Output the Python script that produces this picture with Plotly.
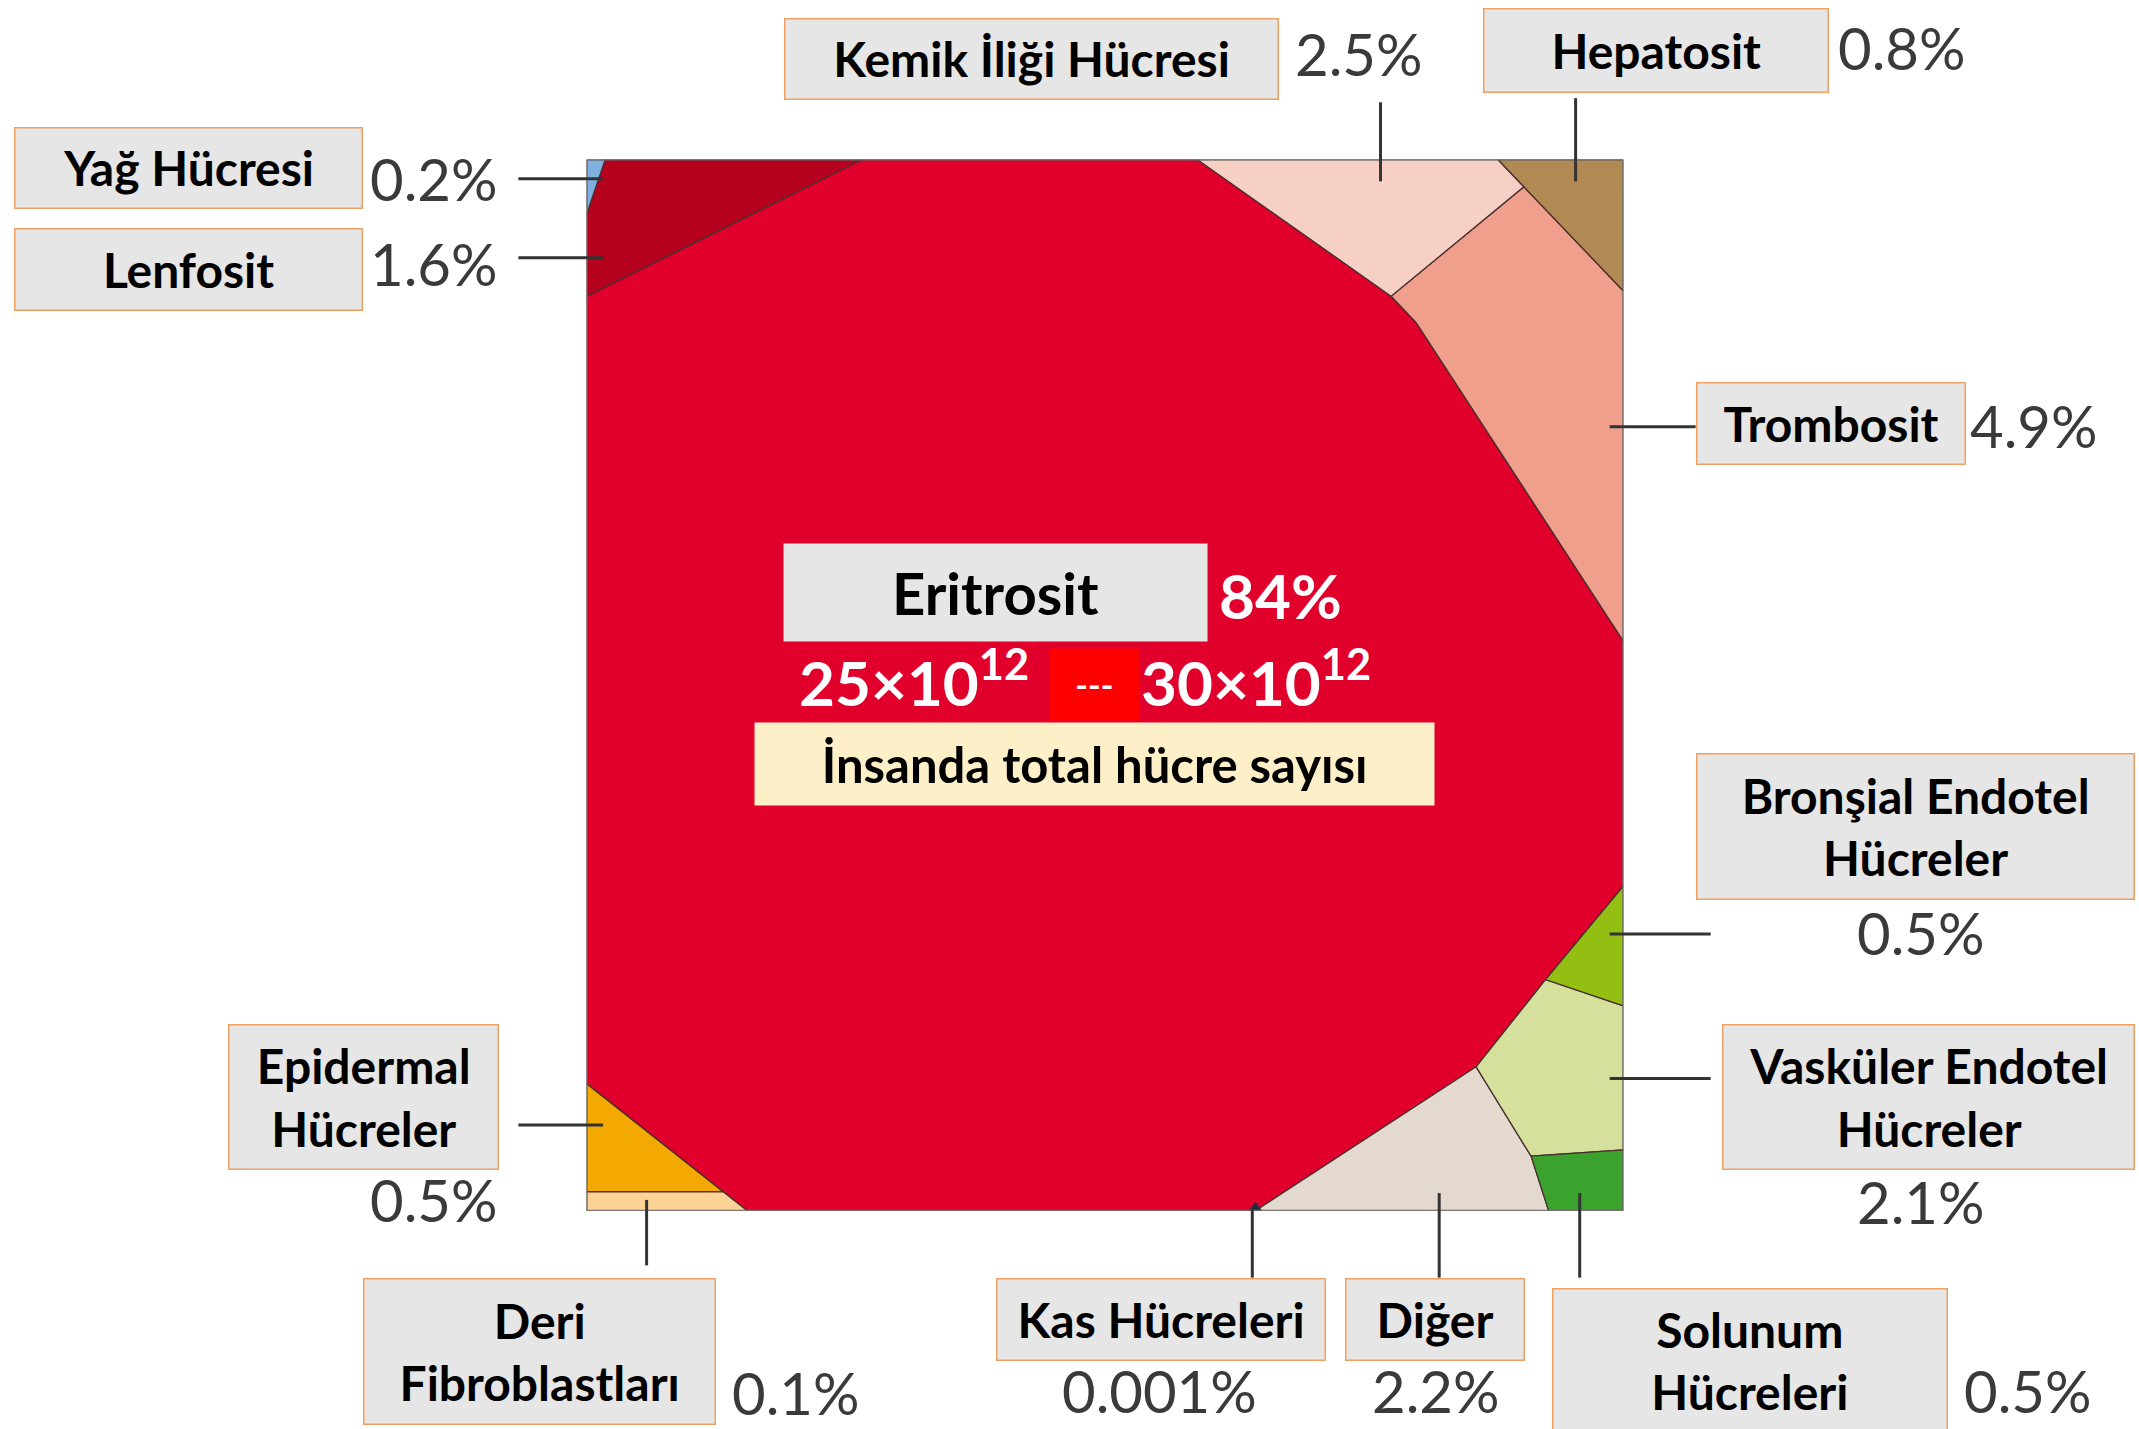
import plotly.graph_objects as go

# ---------------- data ----------------
categories = ["Eritrosit", "Trombosit", "Kemik İliği Hücresi", "Diğer",
              "Vasküler Endotel Hücreler", "Lenfosit", "Hepatosit",
              "Bronşial Endotel Hücreler", "Solunum Hücreleri",
              "Epidermal Hücreler", "Yağ Hücresi", "Deri Fibroblastları",
              "Kas Hücreleri"]
percent_values = [84, 4.9, 2.5, 2.2, 2.1, 1.6, 0.8, 0.5, 0.5, 0.5, 0.2, 0.1, 0.001]
percent_labels = ["84%", "4.9%", "2.5%", "2.2%", "2.1%", "1.6%", "0.8%",
                  "0.5%", "0.5%", "0.5%", "0.2%", "0.1%", "0.001%"]
total_low = "25×10<sup>12</sup>"
total_high = "30×10<sup>12</sup>"
total_caption = "İnsanda total hücre sayısı"

# Voronoi-treemap cell outlines, in unit-square coordinates
cell_u = {
    "Eritrosit": [0.266, 0.589, 0.776, 0.800, 1.0, 1.0, 0.925, 0.858, 0.645, 0.155, 0.0, 0.0],
    "Trombosit": [0.904, 1.0, 1.0, 0.800, 0.776],
    "Kemik İliği Hücresi": [0.589, 0.879, 0.904, 0.776],
    "Diğer": [0.645, 0.858, 0.911, 0.928],
    "Vasküler Endotel Hücreler": [0.925, 1.0, 1.0, 0.911, 0.858],
    "Lenfosit": [0.018, 0.266, 0.0, 0.0],
    "Hepatosit": [0.879, 1.0, 1.0, 0.904],
    "Bronşial Endotel Hücreler": [1.0, 1.0, 0.925],
    "Solunum Hücreleri": [0.911, 1.0, 1.0, 0.928],
    "Epidermal Hücreler": [0.0, 0.132, 0.0],
    "Yağ Hücresi": [0.0, 0.018, 0.0],
    "Deri Fibroblastları": [0.0, 0.132, 0.155, 0.0],
    "Kas Hücreleri": [0.639, 0.651, 0.645],
}
cell_v = {
    "Eritrosit": [1.0, 1.0, 0.870, 0.845, 0.542, 0.309, 0.220, 0.137, 0.0, 0.0, 0.121, 0.870],
    "Trombosit": [0.974, 0.875, 0.542, 0.845, 0.870],
    "Kemik İliği Hücresi": [1.0, 1.0, 0.974, 0.870],
    "Diğer": [0.0, 0.137, 0.052, 0.0],
    "Vasküler Endotel Hücreler": [0.220, 0.195, 0.058, 0.052, 0.137],
    "Lenfosit": [1.0, 1.0, 0.870, 0.948],
    "Hepatosit": [1.0, 1.0, 0.875, 0.974],
    "Bronşial Endotel Hücreler": [0.309, 0.195, 0.220],
    "Solunum Hücreleri": [0.052, 0.058, 0.0, 0.0],
    "Epidermal Hücreler": [0.121, 0.018, 0.018],
    "Yağ Hücresi": [1.0, 1.0, 0.948],
    "Deri Fibroblastları": [0.018, 0.018, 0.0, 0.0],
    "Kas Hücreleri": [0.0, 0.0, 0.008],
}

# ---------------- styles ----------------
cell_colors = {
    "Eritrosit": "#e0002b",
    "Trombosit": "#f09f8c",
    "Kemik İliği Hücresi": "#f7d0c5",
    "Diğer": "#e3d9cf",
    "Vasküler Endotel Hücreler": "#d4e09c",
    "Lenfosit": "#b5001e",
    "Hepatosit": "#b08a52",
    "Bronşial Endotel Hücreler": "#93be12",
    "Solunum Hücreleri": "#3ba22d",
    "Epidermal Hücreler": "#f4a900",
    "Yağ Hücresi": "#7eb0e0",
    "Deri Fibroblastları": "#fcd394",
    "Kas Hücreleri": "#1f2a48",
}

REF_W, REF_H = 1568.0, 1048.0   # reference coordinates used for placement
SCALE = 2139.0 / REF_W


def px(x):
    return x / REF_W


def py(y):
    return 1 - y / REF_H


fig = go.Figure()
for name in categories:
    xs = cell_u[name] + [cell_u[name][0]]
    ys = cell_v[name] + [cell_v[name][0]]
    fig.add_trace(go.Scatter(
        x=xs, y=ys, mode="lines", fill="toself",
        fillcolor=cell_colors[name],
        line=dict(color="#4a2e2e", width=1.3),
        name=name, hoverinfo="name", showlegend=False))

# outer square border
fig.add_shape(type="rect", xref="x", yref="y", x0=0, y0=0, x1=1, y1=1,
              line=dict(color="#707070", width=2), fillcolor="rgba(0,0,0,0)")

LABEL_FONT = "Lato, 'Open Sans', sans-serif"
BOX_BG = "#e6e6e6"
BOX_BORDER = "#f0a060"

# label boxes: (category, center x, center y, width, height, text)
boxes = [
    ("Kemik İliği Hücresi", 756.5, 43, 363, 60, "Kemik İliği Hücresi"),
    ("Hepatosit", 1214, 37, 254, 62, "Hepatosit"),
    ("Yağ Hücresi", 138, 123, 256, 60, "Yağ Hücresi"),
    ("Lenfosit", 138, 197.5, 256, 61, "Lenfosit"),
    ("Trombosit", 1342, 310.5, 198, 61, "Trombosit"),
    ("Bronşial Endotel Hücreler", 1404, 606, 322, 108, "Bronşial Endotel<br>Hücreler"),
    ("Vasküler Endotel Hücreler", 1413.5, 804.5, 303, 107, "Vasküler Endotel<br>Hücreler"),
    ("Epidermal Hücreler", 266.5, 804.5, 199, 107, "Epidermal<br>Hücreler"),
    ("Deri Fibroblastları", 395.5, 991, 259, 108, "Deri<br>Fibroblastları"),
    ("Kas Hücreleri", 851, 967.5, 242, 61, "Kas Hücreleri"),
    ("Diğer", 1052, 967.5, 132, 61, "Diğer"),
    ("Solunum Hücreleri", 1283, 998, 290, 106, "Solunum<br>Hücreleri"),
]
for _, cx, cy, w, h, txt in boxes:
    fig.add_annotation(
        xref="paper", yref="paper", x=px(cx), y=py(cy), xanchor="center", yanchor="middle",
        text="<b>" + txt + "</b>", showarrow=False,
        width=w * SCALE - 3, height=h * SCALE - 3, align="center", valign="middle",
        bgcolor=BOX_BG, bordercolor=BOX_BORDER, borderwidth=1.5, borderpad=0,
        font=dict(family=LABEL_FONT, size=48, color="#000000"))

# percentage positions: (category, x, y)
pct_pos = [
    ("Kemik İliği Hücresi", 996, 39), ("Hepatosit", 1394, 35),
    ("Yağ Hücresi", 318, 131), ("Lenfosit", 318, 193),
    ("Trombosit", 1491, 312), ("Bronşial Endotel Hücreler", 1408, 684),
    ("Vasküler Endotel Hücreler", 1408, 881), ("Epidermal Hücreler", 318, 880),
    ("Deri Fibroblastları", 583, 1021), ("Kas Hücreleri", 850, 1020),
    ("Diğer", 1052, 1020), ("Solunum Hücreleri", 1486, 1020),
]
for name, x, y in pct_pos:
    fig.add_annotation(
        xref="paper", yref="paper", x=px(x), y=py(y), xanchor="center", yanchor="middle",
        text=percent_labels[categories.index(name)], showarrow=False,
        font=dict(family=LABEL_FONT, size=58, color="#3a3a3a"))

# Eritrosit centre block
fig.add_annotation(xref="paper", yref="paper", x=px(730), y=py(434.5),
                   xanchor="center", yanchor="middle", text="<b>Eritrosit</b>",
                   showarrow=False, width=310 * SCALE, height=71 * SCALE,
                   bgcolor=BOX_BG, borderpad=0, valign="middle",
                   font=dict(family=LABEL_FONT, size=58, color="#000000"))
fig.add_annotation(xref="paper", yref="paper", x=px(939), y=py(436),
                   xanchor="center", yanchor="middle",
                   text="<b>" + percent_labels[0] + "</b>", showarrow=False,
                   font=dict(family=LABEL_FONT, size=62, color="#ffffff"))
fig.add_annotation(xref="paper", yref="paper", x=px(802.5), y=py(502),
                   xanchor="center", yanchor="middle", text="<b>---</b>",
                   showarrow=False, width=65 * SCALE, height=52 * SCALE,
                   bgcolor="#ff0000", borderpad=0, valign="middle",
                   font=dict(family=LABEL_FONT, size=34, color="#ffffff"))
fig.add_annotation(xref="paper", yref="paper", x=px(670), y=py(497),
                   xanchor="center", yanchor="middle", text="<b>" + total_low + "</b>",
                   showarrow=False, font=dict(family=LABEL_FONT, size=62, color="#ffffff"))
fig.add_annotation(xref="paper", yref="paper", x=px(921), y=py(497),
                   xanchor="center", yanchor="middle", text="<b>" + total_high + "</b>",
                   showarrow=False, font=dict(family=LABEL_FONT, size=62, color="#ffffff"))
fig.add_annotation(xref="paper", yref="paper", x=px(802), y=py(560),
                   xanchor="center", yanchor="middle", text="<b>" + total_caption + "</b>",
                   showarrow=False, width=498 * SCALE, height=60 * SCALE,
                   bgcolor="#fdf0c8", borderpad=0, valign="middle",
                   font=dict(family=LABEL_FONT, size=49, color="#000000"))

# leader lines
leaders = [
    (1012, 75, 1012, 133), (1155, 72, 1155, 133),
    (380, 131, 442, 131), (380, 189, 442, 189),
    (1180, 313, 1243, 313), (1180, 685, 1254, 685),
    (1180, 791, 1254, 791), (380, 825, 442, 825),
    (474, 880, 474, 928), (918, 886, 918, 937),
    (1055, 875, 1055, 937), (1158, 875, 1158, 937),
]
for x0, y0, x1, y1 in leaders:
    fig.add_shape(type="line", xref="paper", yref="paper",
                  x0=px(x0), y0=py(y0), x1=px(x1), y1=py(y1),
                  line=dict(color="#333333", width=3))

fig.update_layout(
    width=2139, height=1429,
    margin=dict(l=0, r=0, t=0, b=0),
    paper_bgcolor="#ffffff", plot_bgcolor="#ffffff",
    xaxis=dict(domain=[px(430), px(1190)], range=[0, 1], visible=False,
               showgrid=False, zeroline=False, fixedrange=True),
    yaxis=dict(domain=[py(888), py(117)], range=[0, 1], visible=False,
               showgrid=False, zeroline=False, fixedrange=True),
    showlegend=False,
)

fig.write_html("out.html", config={"displayModeBar": False},
               post_script="document.body.style.margin='0';document.body.style.overflow='hidden';")
